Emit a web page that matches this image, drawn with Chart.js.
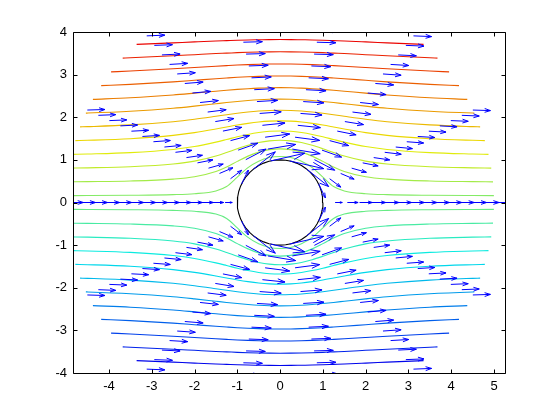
<!DOCTYPE html>
<html><head><meta charset="utf-8">
<script src="https://cdn.jsdelivr.net/npm/chart.js@4/dist/chart.umd.min.js"></script>
<style>html,body{margin:0;padding:0;background:#fff}canvas{display:block}</style>
</head><body>
<canvas id="c" width="560" height="420"></canvas>
<script>
// ---- tick labels ----
const xTicks = [-4, -3, -2, -1, 0, 1, 2, 3, 4, 5];
const yTicks = [-4, -3, -2, -1, 0, 1, 2, 3, 4];

// ---- quiver grid (polar) ----
const gridR = [1, 1.2857, 1.5714, 1.8571, 2.1429, 2.4286, 2.7143, 3, 3.2857, 3.5714, 3.8571, 4.1429, 4.4286, 4.7143, 5];
const gridThetaDeg = [0, 25.71, 51.43, 77.14, 102.86, 128.57, 154.29, 180, 205.71, 231.43, 257.14, 282.86, 308.57, 334.29];
const quiverU = [
  [0, 0.40, 0.60, 0.71, 0.78, 0.83, 0.86, 0.89, 0.91, 0.92, 0.93, 0.94, 0.95, 0.96, 0.96],
  [0.38, 0.62, 0.75, 0.82, 0.86, 0.89, 0.92, 0.93, 0.94, 0.95, 0.96, 0.96, 0.97, 0.97, 0.98],
  [1.22, 1.13, 1.09, 1.06, 1.05, 1.04, 1.03, 1.02, 1.02, 1.02, 1.01, 1.01, 1.01, 1.01, 1.01],
  [1.90, 1.55, 1.37, 1.26, 1.20, 1.15, 1.12, 1.10, 1.08, 1.07, 1.06, 1.05, 1.05, 1.04, 1.04],
  [1.90, 1.55, 1.37, 1.26, 1.20, 1.15, 1.12, 1.10, 1.08, 1.07, 1.06, 1.05, 1.05, 1.04, 1.04],
  [1.22, 1.13, 1.09, 1.06, 1.05, 1.04, 1.03, 1.02, 1.02, 1.02, 1.01, 1.01, 1.01, 1.01, 1.01],
  [0.38, 0.62, 0.75, 0.82, 0.86, 0.89, 0.92, 0.93, 0.94, 0.95, 0.96, 0.96, 0.97, 0.97, 0.98],
  [0, 0.40, 0.60, 0.71, 0.78, 0.83, 0.86, 0.89, 0.91, 0.92, 0.93, 0.94, 0.95, 0.96, 0.96],
  [0.38, 0.62, 0.75, 0.82, 0.86, 0.89, 0.92, 0.93, 0.94, 0.95, 0.96, 0.96, 0.97, 0.97, 0.98],
  [1.22, 1.13, 1.09, 1.06, 1.05, 1.04, 1.03, 1.02, 1.02, 1.02, 1.01, 1.01, 1.01, 1.01, 1.01],
  [1.90, 1.55, 1.37, 1.26, 1.20, 1.15, 1.12, 1.10, 1.08, 1.07, 1.06, 1.05, 1.05, 1.04, 1.04],
  [1.90, 1.55, 1.37, 1.26, 1.20, 1.15, 1.12, 1.10, 1.08, 1.07, 1.06, 1.05, 1.05, 1.04, 1.04],
  [1.22, 1.13, 1.09, 1.06, 1.05, 1.04, 1.03, 1.02, 1.02, 1.02, 1.01, 1.01, 1.01, 1.01, 1.01],
  [0.38, 0.62, 0.75, 0.82, 0.86, 0.89, 0.92, 0.93, 0.94, 0.95, 0.96, 0.96, 0.97, 0.97, 0.98]
];
const quiverV = [
  [0, 0, 0, 0, 0, 0, 0, 0, 0, 0, 0, 0, 0, 0, 0],
  [-0.78, -0.47, -0.32, -0.23, -0.17, -0.13, -0.11, -0.09, -0.07, -0.06, -0.05, -0.05, -0.04, -0.04, -0.03],
  [-0.97, -0.59, -0.39, -0.28, -0.21, -0.17, -0.13, -0.11, -0.09, -0.08, -0.07, -0.06, -0.05, -0.04, -0.04],
  [-0.43, -0.26, -0.18, -0.13, -0.09, -0.07, -0.06, -0.05, -0.04, -0.03, -0.03, -0.03, -0.02, -0.02, -0.02],
  [0.43, 0.26, 0.18, 0.13, 0.09, 0.07, 0.06, 0.05, 0.04, 0.03, 0.03, 0.03, 0.02, 0.02, 0.02],
  [0.97, 0.59, 0.39, 0.28, 0.21, 0.17, 0.13, 0.11, 0.09, 0.08, 0.07, 0.06, 0.05, 0.04, 0.04],
  [0.78, 0.47, 0.32, 0.23, 0.17, 0.13, 0.11, 0.09, 0.07, 0.06, 0.05, 0.05, 0.04, 0.04, 0.03],
  [0, 0, 0, 0, 0, 0, 0, 0, 0, 0, 0, 0, 0, 0, 0],
  [-0.78, -0.47, -0.32, -0.23, -0.17, -0.13, -0.11, -0.09, -0.07, -0.06, -0.05, -0.05, -0.04, -0.04, -0.03],
  [-0.97, -0.59, -0.39, -0.28, -0.21, -0.17, -0.13, -0.11, -0.09, -0.08, -0.07, -0.06, -0.05, -0.04, -0.04],
  [-0.43, -0.26, -0.18, -0.13, -0.09, -0.07, -0.06, -0.05, -0.04, -0.03, -0.03, -0.03, -0.02, -0.02, -0.02],
  [0.43, 0.26, 0.18, 0.13, 0.09, 0.07, 0.06, 0.05, 0.04, 0.03, 0.03, 0.03, 0.02, 0.02, 0.02],
  [0.97, 0.59, 0.39, 0.28, 0.21, 0.17, 0.13, 0.11, 0.09, 0.08, 0.07, 0.06, 0.05, 0.04, 0.04],
  [0.78, 0.47, 0.32, 0.23, 0.17, 0.13, 0.11, 0.09, 0.07, 0.06, 0.05, 0.05, 0.04, 0.04, 0.03]
];

// ---- cylinder ----
const cylinderRadius = 1;

// ---- streamlines (y read at shared x positions; null = outside the r=5 domain) ----
const streamX = [-4.5, -3.5, -2.5, -2, -1.5, -1.25, -1, -0.75, -0.5, -0.25, 0, 0.25, 0.5, 0.75, 1, 1.25, 1.5, 2, 2.5, 3.5, 4.5];
const streamY = [
  [null, null, -3.746, -3.768, -3.789, -3.798, -3.807, -3.814, -3.818, -3.822, -3.823, -3.822, -3.818, -3.814, -3.807, -3.798, -3.789, -3.768, -3.746, null, null],
  [null, -3.395, -3.442, -3.468, -3.494, -3.504, -3.515, -3.524, -3.530, -3.534, -3.535, -3.534, -3.530, -3.524, -3.515, -3.504, -3.494, -3.468, -3.442, -3.395, null],
  [null, -3.084, -3.137, -3.168, -3.198, -3.212, -3.225, -3.235, -3.243, -3.248, -3.250, -3.248, -3.243, -3.235, -3.225, -3.212, -3.198, -3.168, -3.137, -3.084, null],
  [null, -2.771, -2.831, -2.867, -2.904, -2.921, -2.937, -2.950, -2.960, -2.967, -2.969, -2.967, -2.960, -2.950, -2.937, -2.921, -2.904, -2.867, -2.831, -2.771, null],
  [null, -2.457, -2.523, -2.566, -2.611, -2.633, -2.653, -2.670, -2.683, -2.691, -2.694, -2.691, -2.683, -2.670, -2.653, -2.633, -2.611, -2.566, -2.523, -2.457, null],
  [-2.098, -2.140, -2.211, -2.261, -2.317, -2.345, -2.371, -2.393, -2.411, -2.422, -2.425, -2.422, -2.411, -2.393, -2.371, -2.345, -2.317, -2.261, -2.211, -2.140, -2.098],
  [-1.779, -1.820, -1.896, -1.953, -2.022, -2.058, -2.092, -2.122, -2.145, -2.160, -2.165, -2.160, -2.145, -2.122, -2.092, -2.058, -2.022, -1.953, -1.896, -1.820, -1.779],
  [-1.459, -1.497, -1.574, -1.639, -1.724, -1.771, -1.817, -1.857, -1.889, -1.909, -1.916, -1.909, -1.889, -1.857, -1.817, -1.771, -1.724, -1.639, -1.574, -1.497, -1.459],
  [-1.137, -1.170, -1.244, -1.313, -1.417, -1.478, -1.541, -1.597, -1.641, -1.670, -1.679, -1.670, -1.641, -1.597, -1.541, -1.478, -1.417, -1.313, -1.244, -1.170, -1.137],
  [-0.813, -0.839, -0.902, -0.970, -1.091, -1.173, -1.261, -1.342, -1.406, -1.446, -1.459, -1.446, -1.406, -1.342, -1.261, -1.173, -1.091, -0.970, -0.902, -0.839, -0.813],
  [-0.489, -0.505, -0.549, -0.603, -0.727, -0.834, -0.965, -1.088, -1.182, -1.240, -1.259, -1.240, -1.182, -1.088, -0.965, -0.834, -0.727, -0.603, -0.549, -0.505, -0.489],
  [-0.163, -0.169, -0.184, -0.206, -0.272, -0.375, -0.595, -0.819, -0.970, -1.054, -1.080, -1.054, -0.970, -0.819, -0.595, -0.375, -0.272, -0.206, -0.184, -0.169, -0.163],
  [0.163, 0.169, 0.184, 0.206, 0.272, 0.375, 0.595, 0.819, 0.970, 1.054, 1.080, 1.054, 0.970, 0.819, 0.595, 0.375, 0.272, 0.206, 0.184, 0.169, 0.163],
  [0.489, 0.505, 0.549, 0.603, 0.727, 0.834, 0.965, 1.088, 1.182, 1.240, 1.259, 1.240, 1.182, 1.088, 0.965, 0.834, 0.727, 0.603, 0.549, 0.505, 0.489],
  [0.813, 0.839, 0.902, 0.970, 1.091, 1.173, 1.261, 1.342, 1.406, 1.446, 1.459, 1.446, 1.406, 1.342, 1.261, 1.173, 1.091, 0.970, 0.902, 0.839, 0.813],
  [1.137, 1.170, 1.244, 1.313, 1.417, 1.478, 1.541, 1.597, 1.641, 1.670, 1.679, 1.670, 1.641, 1.597, 1.541, 1.478, 1.417, 1.313, 1.244, 1.170, 1.137],
  [1.459, 1.497, 1.574, 1.639, 1.724, 1.771, 1.817, 1.857, 1.889, 1.909, 1.916, 1.909, 1.889, 1.857, 1.817, 1.771, 1.724, 1.639, 1.574, 1.497, 1.459],
  [1.779, 1.820, 1.896, 1.953, 2.022, 2.058, 2.092, 2.122, 2.145, 2.160, 2.165, 2.160, 2.145, 2.122, 2.092, 2.058, 2.022, 1.953, 1.896, 1.820, 1.779],
  [2.098, 2.140, 2.211, 2.261, 2.317, 2.345, 2.371, 2.393, 2.411, 2.422, 2.425, 2.422, 2.411, 2.393, 2.371, 2.345, 2.317, 2.261, 2.211, 2.140, 2.098],
  [null, 2.457, 2.523, 2.566, 2.611, 2.633, 2.653, 2.670, 2.683, 2.691, 2.694, 2.691, 2.683, 2.670, 2.653, 2.633, 2.611, 2.566, 2.523, 2.457, null],
  [null, 2.771, 2.831, 2.867, 2.904, 2.921, 2.937, 2.950, 2.960, 2.967, 2.969, 2.967, 2.960, 2.950, 2.937, 2.921, 2.904, 2.867, 2.831, 2.771, null],
  [null, 3.084, 3.137, 3.168, 3.198, 3.212, 3.225, 3.235, 3.243, 3.248, 3.250, 3.248, 3.243, 3.235, 3.225, 3.212, 3.198, 3.168, 3.137, 3.084, null],
  [null, 3.395, 3.442, 3.468, 3.494, 3.504, 3.515, 3.524, 3.530, 3.534, 3.535, 3.534, 3.530, 3.524, 3.515, 3.504, 3.494, 3.468, 3.442, 3.395, null],
  [null, null, 3.746, 3.768, 3.789, 3.798, 3.807, 3.814, 3.818, 3.822, 3.823, 3.822, 3.818, 3.814, 3.807, 3.798, 3.789, 3.768, 3.746, null, null]
];
const streamEndX = [3.353, 3.678, 3.950, 4.181, 4.375, 4.539, 4.675, 4.785, 4.871, 4.935, 4.977, 4.997,
                    4.997, 4.977, 4.935, 4.871, 4.785, 4.675, 4.539, 4.375, 4.181, 3.950, 3.678, 3.353];
const streamEndY = [-3.709, -3.388, -3.065, -2.742, -2.420, -2.097, -1.774, -1.452, -1.129, -0.806, -0.484, -0.162,
                    0.162, 0.484, 0.806, 1.129, 1.452, 1.774, 2.097, 2.420, 2.742, 3.065, 3.388, 3.709];
const streamColors = ['#0004eb', '#0022eb', '#0040eb', '#005feb', '#007deb', '#009beb', '#00b9eb', '#00d7eb',
                      '#0bebe0', '#29ebc1', '#48eba3', '#66eb84', '#84eb66', '#a3eb48', '#c1eb29', '#e0eb0b',
                      '#ebd700', '#ebb900', '#eb9b00', '#eb7d00', '#eb5f00', '#eb4000', '#eb2200', '#eb0400'];

// ---- build datasets ----
const ARROW_SCALE = 0.42, HEAD_A = 0.33, HEAD_B = 0.33;
const quiverPts = [];
gridThetaDeg.forEach((deg, i) => {
  const th = deg * Math.PI / 180;
  gridR.forEach((r, j) => {
    const u = quiverU[i][j] * ARROW_SCALE, v = quiverV[i][j] * ARROW_SCALE;
    if (u === 0 && v === 0) return;
    const x0 = r * Math.cos(th), y0 = r * Math.sin(th);
    const tx = x0 + u, ty = y0 + v;
    quiverPts.push(
      {x: x0, y: y0}, {x: tx, y: ty}, {x: null, y: null},
      {x: tx - HEAD_A * (u + HEAD_B * v), y: ty - HEAD_A * (v - HEAD_B * u)},
      {x: tx, y: ty},
      {x: tx - HEAD_A * (u - HEAD_B * v), y: ty - HEAD_A * (v + HEAD_B * u)},
      {x: null, y: null}
    );
  });
});

const circlePts = [];
for (let i = 0; i <= 48; i++) {
  const a = i / 48 * 2 * Math.PI;
  circlePts.push({x: cylinderRadius * Math.cos(a), y: cylinderRadius * Math.sin(a)});
}

const datasets = [
  {data: quiverPts, showLine: true, borderColor: '#0000ff', borderWidth: 1, pointRadius: 0, tension: 0, order: 0},
  {data: circlePts, showLine: true, borderColor: '#000000', borderWidth: 1.1, pointRadius: 0, tension: 0, order: 1}
];
streamY.forEach((row, i) => {
  const pts = [{x: -streamEndX[i], y: streamEndY[i]}];
  row.forEach((y, j) => { if (y !== null) pts.push({x: streamX[j], y: y}); });
  pts.push({x: streamEndX[i], y: streamEndY[i]});
  datasets.push({data: pts, showLine: true, borderColor: streamColors[i], borderWidth: 1.1,
    pointRadius: 0, cubicInterpolationMode: 'monotone', order: 2});
});

const frame = {
  id: 'frame',
  afterDraw(chart) {
    const {ctx, chartArea: a, scales: {x, y}} = chart;
    ctx.save();
    ctx.strokeStyle = '#000';
    ctx.lineWidth = 1;
    const L = Math.round(a.left) + 0.5, R = Math.round(a.right) - 0.5;
    const T = Math.round(a.top) + 0.5, B = Math.round(a.bottom) + 0.5;
    ctx.beginPath();
    ctx.rect(L, T, R - L, B - T);
    xTicks.forEach(v => {
      const p = Math.round(x.getPixelForValue(v)) + 0.5;
      ctx.moveTo(p, B); ctx.lineTo(p, B - 4);
      ctx.moveTo(p, T); ctx.lineTo(p, T + 4);
    });
    yTicks.forEach(v => {
      const p = Math.round(y.getPixelForValue(v)) + 0.5;
      ctx.moveTo(L, p); ctx.lineTo(L + 4, p);
      ctx.moveTo(R, p); ctx.lineTo(R - 4, p);
    });
    ctx.stroke();
    ctx.restore();
  }
};

const tickFont = {family: "'Liberation Sans', Arial, sans-serif", size: 13};
new Chart(document.getElementById('c'), {
  type: 'scatter',
  data: {datasets},
  options: {
    responsive: false,
    animation: false,
    events: [],
    layout: {padding: {left: 0, right: 54, top: 32, bottom: 0}},
    plugins: {legend: {display: false}, tooltip: {enabled: false}},
    scales: {
      x: {
        type: 'linear', min: -4.84, max: 5.28,
        grid: {display: false, drawTicks: false}, border: {display: false},
        ticks: {font: tickFont, color: '#000', padding: 6, maxRotation: 0},
        afterBuildTicks: s => { s.ticks = xTicks.map(v => ({value: v})); },
        afterFit: s => { s.height = 47; }
      },
      y: {
        type: 'linear', min: -4, max: 4,
        grid: {display: false, drawTicks: false}, border: {display: false},
        ticks: {font: tickFont, color: '#000', padding: 6},
        afterBuildTicks: s => { s.ticks = yTicks.map(v => ({value: v})); },
        afterFit: s => { s.width = 73; }
      }
    }
  },
  plugins: [frame]
});
</script>
</body></html>
